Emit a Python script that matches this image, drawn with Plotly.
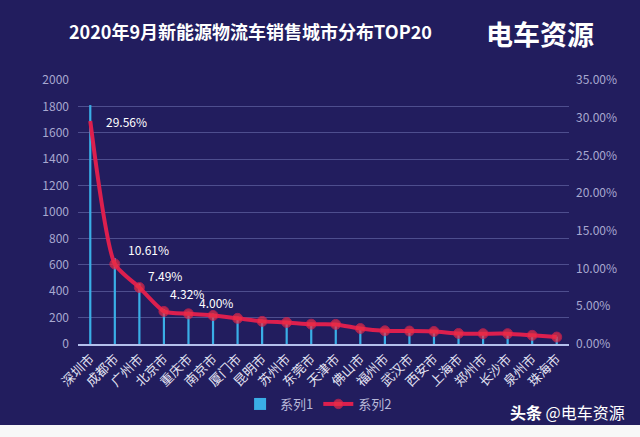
import plotly.graph_objects as go

cities = ["深圳市", "成都市", "广州市", "北京市", "重庆市", "南京市", "厦门市", "昆明市", "苏州市", "东莞市",
          "天津市", "佛山市", "福州市", "武汉市", "西安市", "上海市", "郑州市", "长沙市", "泉州市", "珠海市"]
sales = [1810, 650, 459, 265, 245, 231, 208, 184, 175, 161, 159, 126, 107, 105, 102, 86, 84, 84, 70, 56]
share = [0.2956, 0.1061, 0.0749, 0.0432, 0.0400, 0.0378, 0.0340, 0.0300, 0.0285, 0.0263,
         0.0260, 0.0205, 0.0175, 0.0172, 0.0166, 0.0140, 0.0137, 0.0137, 0.0115, 0.0092]
label_idx = [0, 1, 2, 3, 4]
label_shift = [(14, 0), (11, 14), (7, 12), (4, 18), (9, 11)]

BG = "#221d5e"
FONT = "Noto Sans CJK SC"

fig = go.Figure()
fig.add_trace(go.Bar(
    x=cities, y=sales, name="系列1", width=0.09,
    marker=dict(color="#3aaee6", line=dict(width=0)),
))
fig.add_trace(go.Scatter(
    x=cities, y=share, name="系列2", yaxis="y2", mode="lines+markers",
    line=dict(color="#dc1f4e", width=4, shape="spline", smoothing=0.6),
    marker=dict(color="#ec2f45", size=[0] + [10] * (len(share) - 1)),
))

annotations = []
for i, (dx, dy) in zip(label_idx, label_shift):
    annotations.append(dict(
        x=cities[i], y=share[i], xref="x", yref="y2", text=f"{share[i]*100:.2f}%",
        showarrow=False, xanchor="left", yanchor="middle", xshift=dx, yshift=dy,
        font=dict(color="#ffffff", size=12, family=FONT),
    ))
annotations += [
    dict(text="<b>2020年9月新能源物流车销售城市分布TOP20</b>", xref="paper", yref="paper",
         x=(250 - 78) / 491, y=(344 - 31) / 264, showarrow=False, xanchor="center", yanchor="middle",
         font=dict(color="#ffffff", size=18, family=FONT)),
    dict(text="<b>电车资源</b>", xref="paper", yref="paper",
         x=(540 - 78) / 491, y=(344 - 33) / 264, showarrow=False, xanchor="center", yanchor="middle",
         font=dict(color="#ffffff", size=27, family=FONT)),
    dict(text="<b>头条</b> @电车资源", xref="paper", yref="paper",
         x=(627 - 78) / 491, y=(344 - 412) / 264, showarrow=False, xanchor="right", yanchor="middle",
         font=dict(color="#ffffff", size=16, family=FONT)),
]

fig.update_layout(
    width=640, height=437,
    margin=dict(l=78, r=71, t=80, b=93),
    paper_bgcolor="#f7f7f7", plot_bgcolor=BG,
    font=dict(family=FONT, color="#a8a8d0"),
    bargap=0.5,
    xaxis=dict(
        tickangle=-45, tickfont=dict(size=13, color="#e4e4f4", family=FONT),
        showline=True, linecolor="#b4c0ec", linewidth=2, ticks="", showgrid=False,
        range=[-0.5, 19.5],
    ),
    yaxis=dict(
        range=[0, 2000], dtick=200, showgrid=True, gridcolor="#4e4e8e", gridwidth=1,
        zeroline=False, tickfont=dict(size=12, color="#a8a8d0"), ticks="",
        ticklabelstandoff=8,
    ),
    yaxis2=dict(
        range=[0, 0.35], dtick=0.05, tickformat=".2%", overlaying="y", side="right",
        showgrid=False, zeroline=False, tickfont=dict(size=12, color="#a8a8d0"), ticks="",
        ticklabelstandoff=6,
    ),
    legend=dict(
        orientation="h", x=0.49, xanchor="center", y=(344 - 404) / 264, yanchor="middle",
        font=dict(size=13, color="#b8b8d8", family=FONT), bgcolor="rgba(0,0,0,0)",
        itemwidth=30, tracegroupgap=0,
    ),
    annotations=annotations,
    shapes=[dict(type="rect", xref="paper", yref="paper",
                 x0=-78 / 491, x1=(640 - 78) / 491,
                 y0=(344 - 425) / 264, y1=344 / 264,
                 fillcolor=BG, line=dict(width=0), layer="below")],
    showlegend=True,
)

fig.write_html(
    "out.html",
    config={"displayModeBar": False},
    post_script="document.body.style.margin='0';document.body.style.overflow='hidden';",
)
